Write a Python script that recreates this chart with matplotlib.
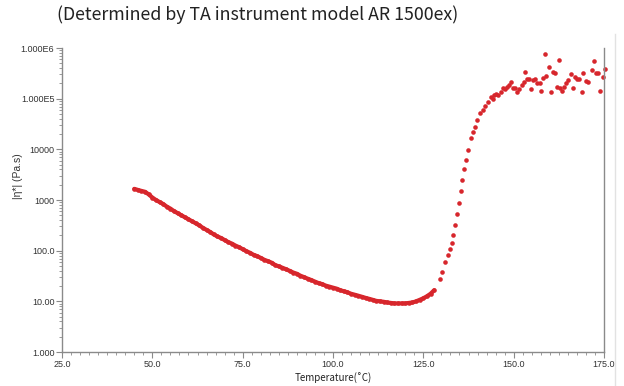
import matplotlib
matplotlib.use("Agg")
import matplotlib.pyplot as plt
from matplotlib.ticker import FixedLocator, LogLocator, NullFormatter, MultipleLocator
from matplotlib.lines import Line2D

# smooth part of the curve, 1 C steps
temp_smooth = list(range(45, 129))
visc_smooth = [1660, 1580, 1510, 1450, 1290, 1120, 1000, 912, 832, 741,
               676, 603, 550, 501, 457, 417, 380, 347, 316, 282,
               257, 234, 209, 191, 178, 162, 148, 138, 126, 117,
               107, 98, 91, 83, 78, 72, 66, 62, 58, 52,
               49, 46, 43, 40, 37, 35, 32, 30, 28, 26.3,
               24.5, 22.9, 21.9, 20.4, 19.5, 18.6, 17.8, 16.6, 15.8, 15.1,
               14.1, 13.5, 12.9, 12.3, 11.7, 11.2, 10.7, 10.2, 10.0, 9.8,
               9.5, 9.3, 9.1, 9.1, 9.1, 9.1, 9.3, 9.5, 10.0, 10.7,
               11.5, 12.6, 14.1, 16.6]

# steep rise (gelation)
temp_rise = [129.6, 130.2, 131.0, 131.8, 132.4, 132.9, 133.2, 133.8, 134.3, 134.9,
             135.4, 135.7, 136.3, 136.8, 137.4, 138.2, 138.8, 139.3, 139.9, 140.7,
             141.5, 142.1]
visc_rise = [27, 38, 60, 82, 107, 141, 204, 324, 525, 871,
             1510, 2450, 4070, 6170, 9770, 16600, 21900, 27500, 38000, 52500,
             60300, 70800]

# noisy plateau
temp_plat = [142.9, 143.7, 144.3, 144.6, 145.1, 145.7, 146.5, 147.1, 147.6, 148.2,
             148.7, 149.3, 149.8, 150.4, 150.9, 151.5, 152.3, 152.9, 153.1, 153.7,
             154.3, 154.8, 155.4, 155.9, 156.5, 157.3, 157.6, 158.1, 158.7, 159.0,
             159.8, 160.3, 160.9, 161.5, 162.0, 162.6, 162.8, 163.4, 163.9, 164.5,
             165.0, 165.9, 166.4, 167.0, 167.5, 168.1, 168.9, 169.2, 170.0, 170.6,
             171.7, 172.2, 172.8, 173.4, 173.9, 174.7, 175.2]
visc_plat = [85900, 108000, 98400, 118000, 124000, 118000, 135000, 162000, 155000, 170000,
             186000, 213000, 162000, 162000, 135000, 155000, 186000, 213000, 336000, 244000,
             244000, 155000, 233000, 244000, 204000, 204000, 142000, 256000, 760000, 280000,
             422000, 135000, 336000, 321000, 170000, 579000, 162000, 142000, 170000, 204000,
             233000, 307000, 162000, 267000, 244000, 244000, 135000, 321000, 223000, 213000,
             368000, 553000, 321000, 321000, 142000, 267000, 385000]

y_ticks = [1, 10, 100, 1000, 10000, 1e5, 1e6]
y_labels = ["1.000", "10.00", "100.0", "1000", "10000", "1.000E5", "1.000E6"]
x_ticks = [25, 50, 75, 100, 125, 150, 175]
x_labels = ["25.0", "50.0", "75.0", "100.0", "125.0", "150.0", "175.0"]

W, H = 624, 386
fig = plt.figure(figsize=(W / 100, H / 100), dpi=100)
ax = fig.add_axes([62 / W, (H - 352) / H, (604 - 62) / W, (352 - 48) / H])

red = "#d7262c"
# the dense readings overlap into a solid band in the original
ax.plot(temp_smooth, visc_smooth, "-", color=red, lw=3.0, solid_capstyle="round")
ax.plot(temp_smooth + temp_rise + temp_plat, visc_smooth + visc_rise + visc_plat,
        "o", color=red, ms=3.3, mec="none", clip_on=False)

ax.set_yscale("log")
ax.set_xlim(25, 175)
ax.set_ylim(1, 1e6)

grey = "#8a8a8a"
for s in ["left", "bottom", "right"]:
    ax.spines[s].set_color(grey)
    ax.spines[s].set_linewidth(1.0)
ax.spines["top"].set_visible(False)

ax.yaxis.set_major_locator(FixedLocator(y_ticks))
ax.set_yticklabels(y_labels)
ax.yaxis.set_minor_locator(LogLocator(base=10, subs=range(2, 10), numticks=20))
ax.yaxis.set_minor_formatter(NullFormatter())
ax.xaxis.set_major_locator(FixedLocator(x_ticks))
ax.set_xticklabels(x_labels)
ax.xaxis.set_minor_locator(MultipleLocator(2.5))

ax.tick_params(which="major", direction="out", length=4, width=0.8, color=grey,
               labelsize=6.5, labelcolor="#333333", pad=1.5)
ax.tick_params(which="minor", direction="out", length=2, width=0.6, color=grey)
ax.tick_params(axis="y", which="both", right=False)
for lab in ax.get_xticklabels() + ax.get_yticklabels():
    lab.set_family("Liberation Sans")

fig.text(18 / W, 1 - 176 / H, "|η*| (Pa.s)", rotation=90, ha="center", va="center",
         fontsize=7.5, color="#333333", family="Liberation Sans")
fig.text(333 / W, 1 - 378 / H, "Temperature(˚C)", ha="center", va="center",
         fontsize=7, color="#222222", family=["Noto Sans CJK SC", "DejaVu Sans"])
fig.text(258 / W, 1 - 15 / H, "(Determined by TA instrument model AR 1500ex)",
         ha="center", va="center", fontsize=12.8, color="#222222",
         family=["Noto Sans CJK SC", "DejaVu Sans"])

# faint frame line at the right edge of the picture
fig.add_artist(Line2D([615 / W, 615 / W], [0, 1 - 34 / H], color="#e2e2e2", lw=1))

fig.savefig("out.png", dpi=100)
